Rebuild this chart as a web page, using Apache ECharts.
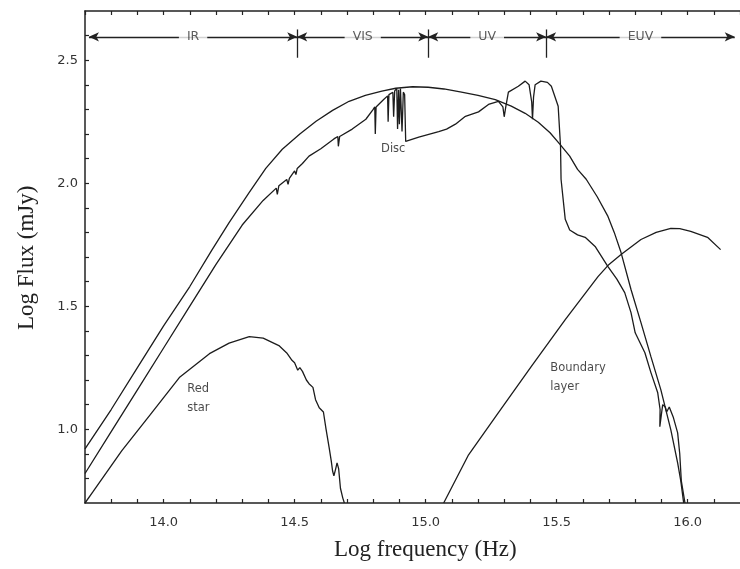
<!DOCTYPE html>
<html>
<head>
<meta charset="utf-8">
<script src="https://cdn.jsdelivr.net/npm/echarts@6/dist/echarts.min.js"></script>
<style>html,body{margin:0;padding:0;background:#fff;}#c{width:740px;height:569px;}</style>
</head>
<body>
<div id="c"></div>
<script>
// ---- data (log frequency [Hz], log flux [mJy]) ----
const blackbodyEnvelope = [
  [13.7,0.92],[13.8,1.08],[13.9,1.25],[14.0,1.42],[14.1,1.58],[14.183,1.726],[14.25,1.84],[14.327,1.963],
  [14.39,2.06],[14.453,2.138],[14.52,2.2],[14.582,2.252],[14.645,2.296],[14.708,2.333],[14.77,2.357],
  [14.833,2.374],[14.886,2.386],[14.95,2.392],[15.01,2.39],[15.07,2.383],[15.137,2.37],[15.2,2.357],
  [15.266,2.34],[15.327,2.313],[15.38,2.284],[15.43,2.248],[15.475,2.205],[15.513,2.158],[15.55,2.11],
  [15.58,2.056],[15.613,2.016],[15.655,1.945],[15.696,1.865],[15.72,1.8],[15.746,1.718],[15.784,1.568],
  [15.822,1.433],[15.86,1.295],[15.898,1.16],[15.936,0.997],[15.962,0.863],[15.974,0.79],[15.985,0.7]
];
const discObserved = [
  [13.7,0.82],[13.8,0.99],[13.9,1.16],[14.0,1.33],[14.1,1.5],[14.2,1.67],[14.3,1.83],[14.38,1.93],
  [14.43,1.98],[14.434,1.955],[14.44,1.99],[14.47,2.015],[14.475,1.995],[14.48,2.02],[14.5,2.05],
  [14.505,2.035],[14.51,2.06],[14.53,2.08],[14.555,2.11],[14.6,2.14],[14.65,2.18],[14.665,2.19],
  [14.667,2.15],[14.672,2.19],[14.72,2.22],[14.772,2.26],[14.8,2.3],[14.806,2.31],[14.808,2.2],
  [14.811,2.31],[14.84,2.34],[14.855,2.355],[14.857,2.25],[14.86,2.36],[14.875,2.37],[14.878,2.27],
  [14.882,2.375],[14.89,2.385],[14.893,2.22],[14.897,2.38],[14.9,2.24],[14.904,2.385],[14.91,2.21],
  [14.915,2.37],[14.92,2.36],[14.924,2.17],[14.974,2.187],[15.05,2.21],[15.08,2.22],[15.114,2.24],
  [15.152,2.272],[15.202,2.29],[15.24,2.32],[15.278,2.333],[15.295,2.31],[15.3,2.27],[15.306,2.31],
  [15.316,2.37],[15.354,2.394],[15.38,2.415],[15.395,2.4],[15.405,2.33],[15.408,2.26],[15.412,2.35],
  [15.418,2.4],[15.44,2.415],[15.465,2.41],[15.48,2.394],[15.506,2.313],[15.515,2.15],[15.517,2.016],
  [15.533,1.853],[15.55,1.81],[15.58,1.79],[15.609,1.78],[15.647,1.743],[15.696,1.661],[15.73,1.61],
  [15.76,1.555],[15.784,1.474],[15.8,1.392],[15.837,1.311],[15.86,1.23],[15.886,1.148],[15.895,1.08],
  [15.894,1.01],[15.9,1.06],[15.905,1.1],[15.915,1.09],[15.92,1.07],[15.93,1.09],[15.945,1.05],
  [15.962,0.985],[15.97,0.9],[15.976,0.79],[15.99,0.7]
];
const redStar = [
  [13.7,0.7],[13.73,0.745],[13.84,0.912],[13.95,1.06],[14.06,1.21],[14.175,1.307],[14.25,1.35],
  [14.327,1.376],[14.38,1.37],[14.44,1.34],[14.47,1.31],[14.49,1.28],[14.5,1.27],[14.506,1.266],
  [14.512,1.24],[14.52,1.25],[14.53,1.235],[14.545,1.2],[14.555,1.185],[14.57,1.17],[14.58,1.12],
  [14.594,1.087],[14.61,1.07],[14.62,1.0],[14.632,0.924],[14.64,0.87],[14.645,0.83],[14.65,0.81],
  [14.657,0.84],[14.662,0.863],[14.668,0.84],[14.675,0.76],[14.684,0.72],[14.69,0.7]
];
const boundaryLayer = [
  [15.069,0.7],[15.164,0.896],[15.278,1.067],[15.403,1.254],[15.533,1.445],[15.658,1.62],[15.7,1.67],
  [15.746,1.71],[15.822,1.771],[15.88,1.8],[15.936,1.816],[15.97,1.815],[16.012,1.804],[16.076,1.78],
  [16.126,1.73]
];
// spectral bands along the top
const bandNames = ['IR','VIS','UV','EUV'];
const bandFrom  = [13.715,14.51,15.01,15.46];
const bandTo    = [14.51,15.01,15.46,16.18];
const bandLevel = 2.595;
const dividerX  = [14.51,15.01,15.46];
const dividerY  = [2.51,2.625];
// curve labels [text, x, y]
const curveLabels = [
  ['Disc',14.83,2.14],
  ['Red',14.09,1.165],
  ['star',14.09,1.085],
  ['Boundary',15.476,1.25],
  ['layer',15.476,1.172]
];
const xTickLabels = ['14.0','14.5','15.0','15.5','16.0'];
const yTickLabels = ['1.0','1.5','2.0','2.5'];

const lineColor = '#1c1c1c';
function lineSeries(data){
  return {type:'line', data:data, showSymbol:false, symbol:'none', smooth:false, animation:false,
    lineStyle:{color:lineColor, width:1.3}, z:3};
}
const bandLines = bandNames.map((n,i)=>[
  {coord:[bandFrom[i],bandLevel]},
  {coord:[bandTo[i],bandLevel]}
]);
const bandLabelData = bandNames.map((n,i)=>({value:[(bandFrom[i]+bandTo[i])/2, bandLevel], name:n}));
const dividerLines = dividerX.map(x=>[{coord:[x,dividerY[0]]},{coord:[x,dividerY[1]]}]);

const chart = echarts.init(document.getElementById('c'), null, {renderer:'canvas'});
const tickFont = {color:'#333', fontSize:13, fontFamily:'DejaVu Sans, sans-serif'};
const option = {
  backgroundColor:'#fff',
  animation:false,
  grid:{left:85, top:11, width:657, height:492},
  xAxis:[{
    type:'value', min:13.7, max:16.2, interval:0.1, position:'bottom',
    axisLine:{show:true, lineStyle:{color:'#222', width:1.5}},
    axisTick:{show:true, inside:true, length:4, lineStyle:{color:'#222', width:1.2}},
    splitLine:{show:false},
    axisLabel:{show:true, margin:13, ...tickFont, showMinLabel:false, showMaxLabel:false,
      formatter:v=>{const s=v.toFixed(1); return xTickLabels.indexOf(s)>=0 ? s : '';}}
  },{
    type:'value', min:13.7, max:16.2, interval:0.1, position:'top',
    axisLine:{show:true, lineStyle:{color:'#222', width:1.5}},
    axisTick:{show:true, inside:true, length:4, lineStyle:{color:'#222', width:1.2}},
    splitLine:{show:false}, axisLabel:{show:false}
  }],
  yAxis:[{
    type:'value', min:0.7, max:2.7, interval:0.1, position:'left',
    axisLine:{show:true, lineStyle:{color:'#222', width:1.5}},
    axisTick:{show:true, inside:true, length:4, lineStyle:{color:'#222', width:1.2}},
    splitLine:{show:false},
    axisLabel:{show:true, margin:7, ...tickFont, showMinLabel:false, showMaxLabel:false,
      formatter:v=>{const s=v.toFixed(1); return yTickLabels.indexOf(s)>=0 ? s : '';}}
  }],
  graphic:[
    {type:'text', x:334, y:538, style:{text:'Log frequency (Hz)', fill:'#222',
      font:'23px "Liberation Serif", "DejaVu Serif", serif'}},
    {type:'text', rotation:Math.PI/2, x:15, y:330, style:{text:'Log Flux (mJy)', fill:'#222',
      font:'23px "Liberation Serif", "DejaVu Serif", serif'}}
  ],
  series:[
    lineSeries(blackbodyEnvelope),
    lineSeries(discObserved),
    lineSeries(redStar),
    lineSeries(boundaryLayer),
    {type:'scatter', data:curveLabels.map(l=>({value:[l[1],l[2]], name:l[0]})), symbolSize:0,
      silent:true, z:5,
      label:{show:true, position:'inside', align:'left', formatter:p=>p.name,
        color:'#1a1a1a', fontSize:11.5, fontFamily:'DejaVu Sans, sans-serif'},
      markLine:{silent:true, animation:false, symbol:['arrow','arrow'], symbolSize:[7,10],
        lineStyle:{color:'#222', width:1.4, type:'solid'}, label:{show:false},
        data:bandLines
      }
    },
    {type:'scatter', data:bandLabelData, symbolSize:0, silent:true, z:6,
      label:{show:true, position:'inside', formatter:p=>p.name, color:'#333', fontSize:12.5,
        fontFamily:'DejaVu Sans, sans-serif', backgroundColor:'#fff', padding:[2,8]},
      markLine:{silent:true, animation:false, symbol:['none','none'],
        lineStyle:{color:'#222', width:1.3, type:'solid'}, label:{show:false}, data:dividerLines}
    }
  ]
};
chart.setOption(option);
</script>
</body>
</html>
